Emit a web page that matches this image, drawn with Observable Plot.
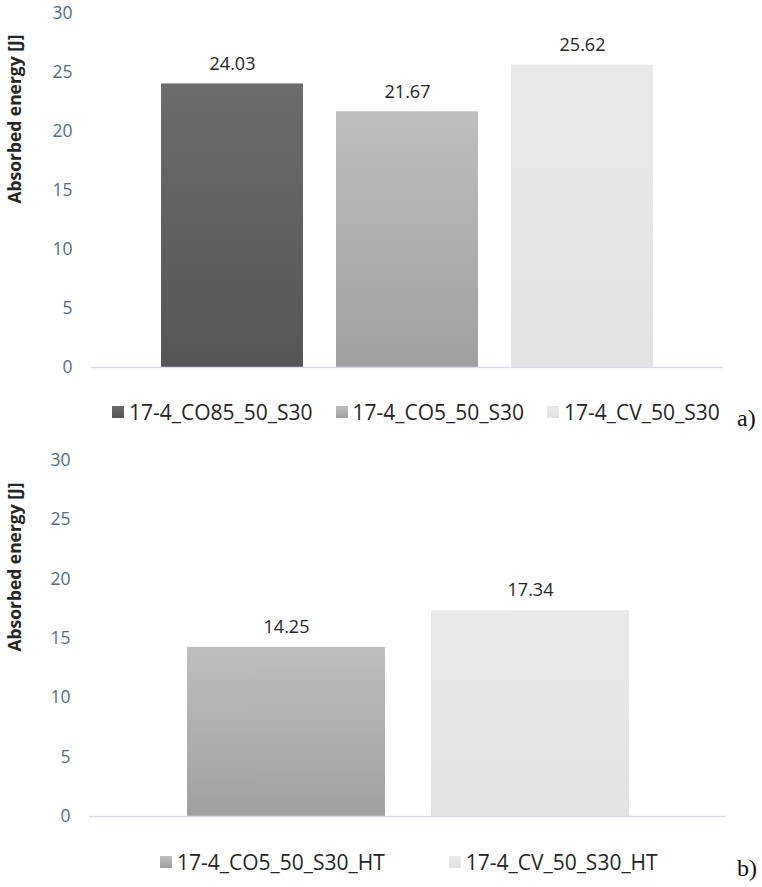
<!DOCTYPE html>
<html>
<head>
<meta charset="utf-8">
<script src="https://cdn.jsdelivr.net/npm/d3@7"></script>
<script src="https://cdn.jsdelivr.net/npm/@observablehq/plot@0.6"></script>
<style>
  html, body { margin: 0; padding: 0; background: #fff; }
  #page { position: relative; width: 762px; height: 887px; overflow: hidden; font-family: "Open Sans", sans-serif; }
  .panel { position: absolute; left: 0; }
  .legend { position: absolute; display: flex; align-items: center; font-size: 21px; color: #262626; white-space: nowrap; line-height: 24px; }
  .item { display: flex; align-items: center; }
  .sw { width: 12px; height: 12px; display: inline-block; }
  .tag { position: absolute; font-family: "Liberation Serif", "Times New Roman", serif; font-size: 24px; color: #111; line-height: 24px; }
</style>
</head>
<body>
<div id="page">
  <div id="pa" class="panel" style="top:0"></div>
  <div id="la" class="legend" style="top:400px; left:112px; gap:23px"></div>
  <div class="tag" style="left:737px; top:406px">a)</div>
  <div id="pb" class="panel" style="top:440px"></div>
  <div id="lb" class="legend" style="top:850px; left:160px; gap:64px"></div>
  <div class="tag" style="left:737px; top:856px">b)</div>
</div>
<script>
// ---- data ----
const seriesA = ["17-4_CO85_50_S30", "17-4_CO5_50_S30", "17-4_CV_50_S30"];
const valuesA = [24.03, 21.67, 25.62];
const shadesA = ["dark", "mid", "light"];

const seriesB = ["17-4_CO5_50_S30_HT", "17-4_CV_50_S30_HT"];
const valuesB = [14.25, 17.34];
const shadesB = ["mid", "light"];

const yTicks = [0, 5, 10, 15, 20, 25, 30];
const yLabel = "Absorbed energy [J]";

// gradient stops (top, bottom) per shade
const shadeNames = ["dark", "mid", "light"];
const shadeTop = ["#6c6c6c", "#bebebe", "#e9e9e9"];
const shadeBottom = ["#565656", "#a0a0a0", "#e3e3e3"];

const tickColor = "#5a6b85";
const textColor = "#262626";
const axisLineColor = "#d9dde5";
const yLabelLength = 169; // target rendered length of the rotated axis title

function addDefs(svg, prefix) {
  const ns = "http://www.w3.org/2000/svg";
  const defs = document.createElementNS(ns, "defs");
  shadeNames.forEach((name, i) => {
    const g = document.createElementNS(ns, "linearGradient");
    g.setAttribute("id", `${prefix}-${name}`);
    g.setAttribute("x1", "0"); g.setAttribute("y1", "0");
    g.setAttribute("x2", "0"); g.setAttribute("y2", "1");
    [[0, shadeTop[i]], [1, shadeBottom[i]]].forEach(([o, c]) => {
      const s = document.createElementNS(ns, "stop");
      s.setAttribute("offset", o);
      s.setAttribute("stop-color", c);
      g.appendChild(s);
    });
    defs.appendChild(g);
  });
  svg.insertBefore(defs, svg.firstChild);
}

function panel({el, prefix, series, values, shades, height, marginTop, marginBottom, marginLeft, marginRight}) {
  const data = series.map((s, i) => ({s, v: values[i], g: `url(#${prefix}-${shades[i]})`}));
  const svg = Plot.plot({
    width: 762,
    height,
    marginTop, marginBottom, marginLeft, marginRight,
    style: {fontFamily: "'Open Sans', sans-serif", background: "transparent", overflow: "visible"},
    x: {domain: series, paddingInner: 0.19, paddingOuter: 0.4, axis: null},
    y: {domain: [0, 30], axis: null},
    color: {type: "identity"},
    marks: [
      Plot.axisY(yTicks, {tickSize: 0, tickPadding: 19, fontSize: 17.5, color: tickColor, label: null}),
      Plot.barY(data, {x: "s", y: "v", fill: "g"}),
      Plot.ruleY([0], {stroke: axisLineColor, strokeWidth: 1.5}),
      Plot.text(data, {x: "s", y: "v", text: d => d3.format(".2f")(d.v), dy: -20, fontSize: 18, fill: textColor}),
      Plot.text([yLabel], {text: d => d, frameAnchor: "left", rotate: -90, dx: 14.5 - marginLeft, dy: 13, fontSize: 17, fontWeight: "bold", fill: textColor})
    ]
  });
  addDefs(svg, prefix);
  el.appendChild(svg);
  // fit the axis title to its measured length in the reference
  const groups = svg.querySelectorAll('g[aria-label="text"]');
  const g = groups[groups.length - 1];
  const t = g && g.querySelector("text");
  if (t) {
    const len = t.getComputedTextLength();
    if (len > 0) {
      const fs = 17 * yLabelLength / len;
      g.setAttribute("font-size", fs);
      t.setAttribute("font-size", fs);
    }
  }
  return svg;
}

function legend(el, series, shades) {
  series.forEach((s, i) => {
    const k = shadeNames.indexOf(shades[i]);
    const item = document.createElement("div");
    item.className = "item";
    const sw = document.createElement("span");
    sw.className = "sw";
    sw.style.background = `linear-gradient(to bottom, ${shadeTop[k]}, ${shadeBottom[k]})`;
    sw.style.marginRight = "5px";
    const t = document.createElement("span");
    t.textContent = s;
    item.appendChild(sw); item.appendChild(t);
    el.appendChild(item);
  });
}

panel({
  el: document.getElementById("pa"),
  prefix: "ga", series: seriesA, values: valuesA, shades: shadesA,
  height: 375, marginTop: 13, marginBottom: 8, marginLeft: 91, marginRight: 39
});
panel({
  el: document.getElementById("pb"),
  prefix: "gb", series: seriesB, values: valuesB, shades: shadesB,
  height: 381, marginTop: 20, marginBottom: 5, marginLeft: 89, marginRight: 36
});
legend(document.getElementById("la"), seriesA, shadesA);
legend(document.getElementById("lb"), seriesB, shadesB);
</script>
</body>
</html>
